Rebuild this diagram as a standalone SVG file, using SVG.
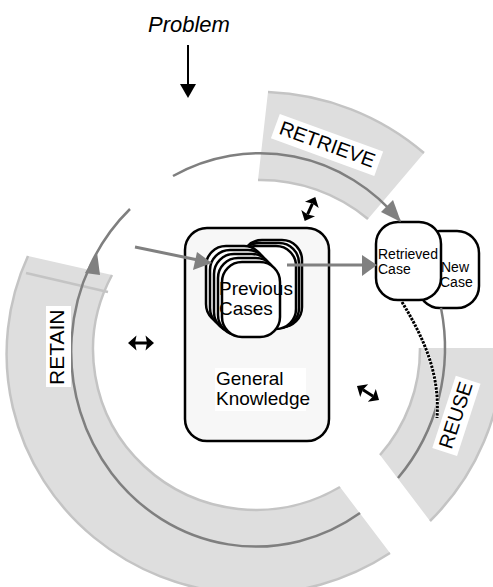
<svg xmlns="http://www.w3.org/2000/svg" width="493" height="587" viewBox="0 0 493 587">
<defs>
<style>
.band{fill:#dedede;stroke:none}
.edge{fill:none;stroke:#c4c4c4;stroke-width:2.5}
.cyc{fill:none;stroke:#7f7f7f;stroke-width:2.5}
.garr{fill:#808080;stroke:none}
.gline{fill:none;stroke:#808080;stroke-width:3}
.card{fill:#fff;stroke:#000;stroke-width:2.5}
.box{fill:#f7f7f7;stroke:#000;stroke-width:2.5}
.t{font-family:"Liberation Sans",Arial,Helvetica,sans-serif;fill:#000}
.bg{fill:#fff;stroke:none}
</style>
<g id="dbl">
<path d="M-6,0 H6" stroke="#000" stroke-width="3"/>
<polygon points="-13,0 -4.5,-7.5 -6,0 -4.5,7.5" fill="#000"/>
<polygon points="13,0 4.5,-7.5 6,0 4.5,7.5" fill="#000"/>
</g>
</defs>
<rect width="493" height="587" fill="#fff"/>

<g id="bands">
<path class="band" d="M268,92 A255,255 0 0 1 424,153 L368,219 A168,168 0 0 0 258,180 Z"/>
<path class="edge" d="M268,92 A255,255 0 0 1 424,153"/>
<path class="edge" d="M258,180 A168,168 0 0 1 368,219"/>
<path class="band" d="M420,348 L503,348 A243,243 0 0 1 430,521 L380,455 A160,160 0 0 0 420,348 Z"/>
<path class="edge" d="M503,348 A243,243 0 0 1 430,521"/>
<path class="edge" d="M380,455 A160,160 0 0 0 420,348"/>
<path class="band" d="M28,256 L112,275 A163,160 0 0 0 340,487 L390,553 A246,240 0 0 1 28,256 Z"/>
<path class="edge" d="M112,275 A163,160 0 0 0 340,487"/>
<path class="edge" d="M390,553 A246,240 0 0 1 28,256"/>
<path class="edge" d="M26,273 L108,292"/>
</g>

<g id="problem">
<text class="t" x="148" y="32" font-size="22" font-style="italic">Problem</text>
</g>

<g id="general-knowledge">
<rect class="box" x="185" y="228" width="144" height="213" rx="22"/>
<rect class="bg" x="215" y="368" width="91" height="43"/>
<text class="t" font-size="19"><tspan x="216" y="385">General</tspan><tspan x="216" y="405">Knowledge</tspan></text>
</g>

<g id="previous-cases">
<rect class="card" x="242" y="240" width="60" height="87" rx="20"/>
<rect class="card" x="239" y="243" width="60" height="85" rx="20"/>
<rect class="card" x="236" y="246" width="60" height="83" rx="20"/>
<rect class="card" x="206" y="246" width="58" height="78" rx="20"/>
<rect class="card" x="210" y="250" width="58" height="78" rx="20"/>
<rect class="card" x="214" y="254" width="58" height="78" rx="20"/>
<rect class="card" x="218" y="258" width="58" height="77" rx="20"/>
<rect class="card" x="222" y="262" width="58" height="75" rx="20"/>
<text class="t" font-size="19"><tspan x="219" y="295">Previous</tspan><tspan x="219" y="315">Cases</tspan></text>
</g>

<g id="new-case">
<rect class="card" x="418" y="231" width="61" height="77" rx="22"/>
<text class="t" font-size="14"><tspan x="441" y="272">New</tspan><tspan x="440" y="287">Case</tspan></text>
</g>

<g id="retrieved-case">
<rect class="card" x="376" y="222" width="65" height="78" rx="22"/>
<text class="t" font-size="14"><tspan x="378" y="259">Retrieved</tspan><tspan x="378" y="274">Case</tspan></text>
</g>

<g id="connectors">
<path d="M188,45 V86" stroke="#000" stroke-width="2"/>
<polygon points="180,84 196,84 188,98" fill="#000"/>
<path class="cyc" d="M173,176 A185,195 0 0 1 400,221"/>
<polygon class="garr" points="401,222 381,212 393,200"/>
<path class="cyc" d="M441,308 A185,195 0 0 1 398,478"/>
<path class="cyc" d="M360,513 A185,195 0 0 1 130,209"/>
<polygon class="garr" points="97,252 85,273 100,275"/>
<path class="gline" d="M135,247 L198,260"/>
<polygon class="garr" points="212,263 197,252 193,270"/>
<path class="gline" d="M287,265 L364,265"/>
<polygon class="garr" points="377,265 362,255 362,276"/>
<path d="M402,302 C425,340 440,375 437,418" fill="none" stroke="#fff" stroke-width="3.5"/>
<path d="M402,302 C425,340 440,375 437,418" fill="none" stroke="#000" stroke-width="3" stroke-dasharray="2.5 1.2"/>
<use href="#dbl" transform="translate(310,209) rotate(-66)"/>
<use href="#dbl" transform="translate(141,343)"/>
<use href="#dbl" transform="translate(368,393) rotate(32)"/>
</g>

<g id="label-retrieve" transform="translate(278,133.5) rotate(20)">
<rect class="bg" x="-5" y="-19" width="110" height="26"/>
<text class="t" x="0" y="0" font-size="20">RETRIEVE</text>
</g>
<g id="label-retain" transform="translate(63.5,385) rotate(-90)">
<rect class="bg" x="-2" y="-17.5" width="81" height="25"/>
<text class="t" x="0" y="0" font-size="21">RETAIN</text>
</g>
<g id="label-reuse" transform="translate(451.6,450) rotate(-72)">
<rect class="bg" x="-4" y="-19" width="76" height="26"/>
<text class="t" x="0" y="0" font-size="20">REUSE</text>
</g>
</svg>
